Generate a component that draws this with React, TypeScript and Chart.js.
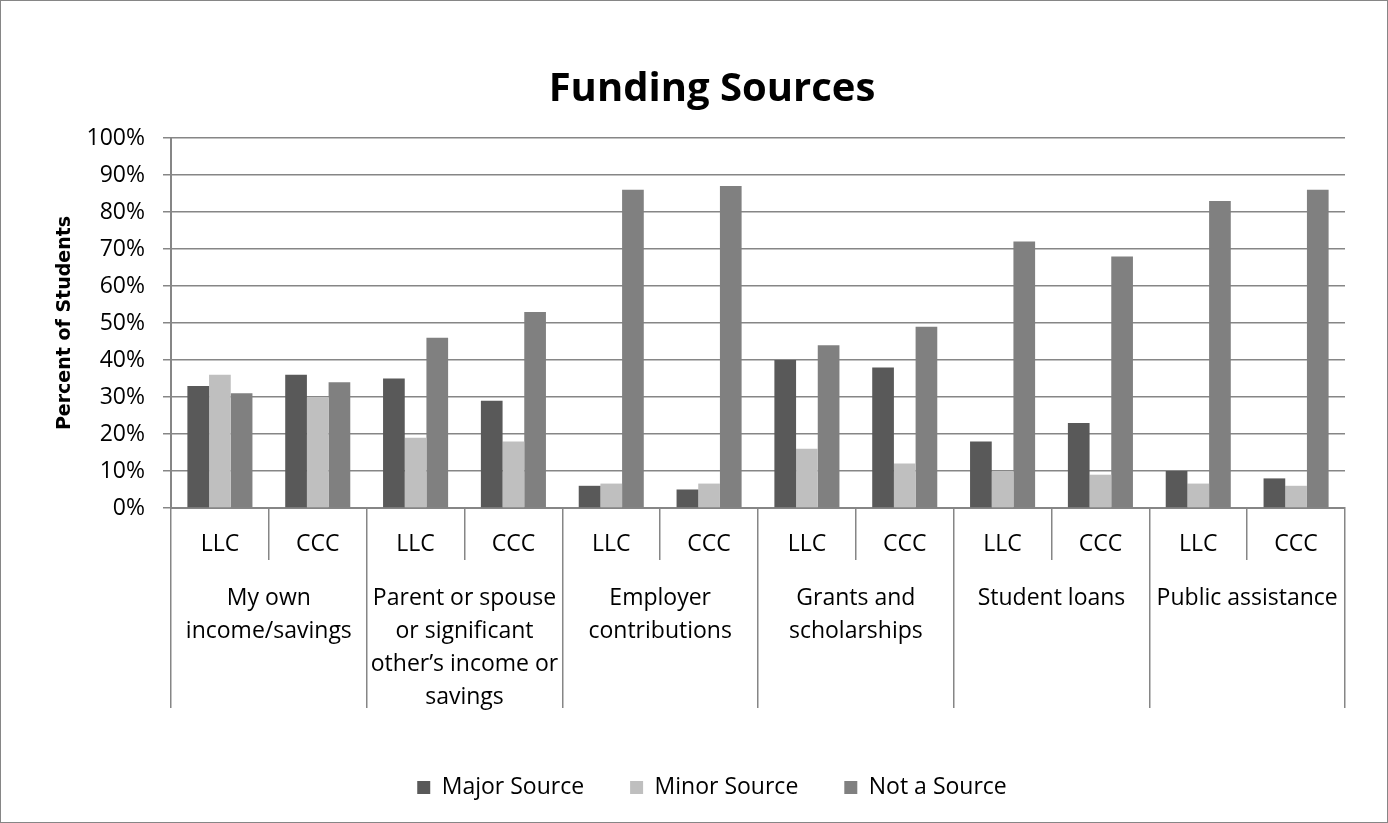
import React, { useEffect, useRef } from "react";
import { Chart, registerables } from "chart.js";

Chart.register(...registerables);

const categories = ["LLC", "CCC", "LLC", "CCC", "LLC", "CCC", "LLC", "CCC", "LLC", "CCC", "LLC", "CCC"];
const groups: string[][] = [
  ["My own", "income/savings"],
  ["Parent or spouse", "or significant", "other’s income or", "savings"],
  ["Employer", "contributions"],
  ["Grants and", "scholarships"],
  ["Student loans"],
  ["Public assistance"],
];
const majorSource = [33, 36, 35, 29, 6, 5, 40, 38, 18, 23, 10, 8];
const minorSource = [36, 30, 19, 18, 6.6, 6.6, 16, 12, 10, 9, 6.6, 6];
const notASource = [31, 34, 46, 53, 86, 87, 44, 49, 72, 68, 83, 86];
const yTicks = [0, 10, 20, 30, 40, 50, 60, 70, 80, 90, 100];

const FONT = "'Open Sans', 'DejaVu Sans', sans-serif";
const AXIS = "#868686";

export default function App() {
  const ref = useRef<HTMLCanvasElement | null>(null);
  useEffect(() => {
    if (!ref.current) return;
    Chart.defaults.font.family = FONT;
    Chart.defaults.color = "#000";
    const chart = new Chart(ref.current, {
      type: "bar",
      data: {
        labels: categories,
        datasets: [
          { label: "Major Source", data: majorSource, backgroundColor: "#595959" },
          { label: "Minor Source", data: minorSource, backgroundColor: "#BFBFBF" },
          { label: "Not a Source", data: notASource, backgroundColor: "#808080" },
        ],
      },
      options: {
        animation: false,
        responsive: false,
        maintainAspectRatio: false,
        datasets: { bar: { categoryPercentage: 0.665, barPercentage: 1 } },
        layout: { padding: { left: 78, right: 42, top: 40, bottom: 13 } },
        plugins: {
          title: {
            display: true,
            text: "Funding Sources",
            font: { size: 40, weight: "bold", family: FONT },
            color: "#000",
            padding: { top: 25, bottom: 24 },
          },
          legend: {
            position: "bottom",
            labels: {
              boxWidth: 13,
              boxHeight: 13,
              padding: 46,
              font: { size: 23, family: FONT },
              color: "#000",
            },
          },
          tooltip: { enabled: false },
        },
        scales: {
          x: {
            type: "category",
            offset: true,
            grid: { offset: true, drawOnChartArea: false, tickLength: 52, color: AXIS, lineWidth: 1.5 },
            border: { display: true, color: AXIS, width: 2 },
            ticks: { autoSkip: false, maxRotation: 0, padding: -29, font: { size: 23 }, color: "#000" },
            afterFit: (s: any) => { s.height = 52; },
          },
          x2: {
            type: "category",
            position: "bottom",
            labels: groups as any,
            offset: true,
            grid: { offset: true, drawOnChartArea: false, tickLength: 148, color: AXIS, lineWidth: 1.5 },
            border: { display: false },
            ticks: { autoSkip: false, maxRotation: 0, padding: -126, font: { size: 23, lineHeight: 1.43 }, color: "#000" },
            afterFit: (s: any) => { s.height = 170; },
          },
          y: {
            min: 0,
            max: 100,
            afterBuildTicks: (s: any) => { s.ticks = yTicks.map((v) => ({ value: v })); },
            grid: { color: AXIS, lineWidth: 1.5, tickLength: 8 },
            border: { display: true, color: AXIS, width: 2 },
            ticks: { padding: 18, font: { size: 23 }, color: "#000", callback: (v: any) => v + "%" },
            title: {
              display: true,
              text: "Percent of Students",
              font: { size: 19, weight: "bold", family: "'DejaVu Sans', sans-serif" },
              color: "#000",
              padding: { top: -25, bottom: 0 },
            },
            afterFit: (s: any) => { s.width = 92; },
          },
        },
      },
    });
    return () => chart.destroy();
  }, []);
  return (
    <div
      style={{
        position: "fixed",
        left: 0,
        top: 0,
        width: 1388,
        height: 823,
        border: "1px solid #868686",
        boxSizing: "border-box",
        background: "#fff",
      }}
    >
      <canvas ref={ref} width={1386} height={821} style={{ display: "block" }} />
    </div>
  );
}
